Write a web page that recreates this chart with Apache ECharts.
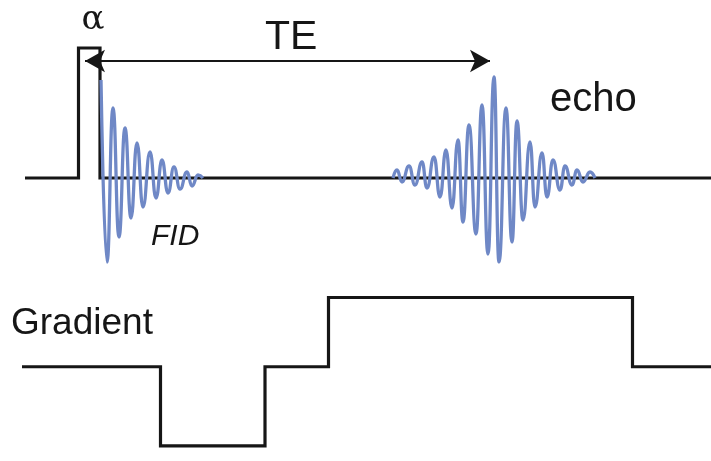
<!DOCTYPE html>
<html>
<head>
<meta charset="utf-8">
<script src="https://cdn.jsdelivr.net/npm/echarts@6/dist/echarts.min.js"></script>
<style>
  html, body { margin: 0; padding: 0; background: #ffffff; }
  #chart { width: 711px; height: 461px; }
</style>
</head>
<body>
<div id="chart"></div>
<script>
// RF channel: baseline with the excitation pulse (time, level)
const rfTime  = [25, 78.5, 78.5, 100, 100, 711];
const rfLevel = [0, 0, 130, 130, 0, 0];

// Free induction decay: successive peaks and troughs
const fidTime = [101, 107, 113, 119, 125, 131, 137, 143, 150, 156, 162, 168, 174, 180, 187, 192, 198, 203];
const fidAmp  = [98, -84, 70, -59, 50, -40, 35, -29, 26, -20, 18, -15, 11, -11, 6, -8, 3, 0];

// Gradient echo: successive peaks and troughs
const echoTime = [393, 397, 402, 409, 415, 422, 427, 434, 440, 446, 452, 458, 463, 469, 476, 482, 488, 494,
                  499, 506, 512, 517, 523, 530, 535, 542, 547, 553, 560, 565, 572, 577, 583, 590, 595];
const echoAmp  = [0, 8, -4, 12, -7, 16, -10, 21, -19, 28, -30, 38, -44, 53, -56, 73, -76, 101,
                  -84, 70, -64, 57, -42, 36, -29, 25, -19, 18, -12, 12, -7, 8, -4, 6, 0];

// Read-out gradient waveform: dephasing lobe then read lobe
const gradTime  = [22, 160.5, 160.5, 265, 265, 328.5, 328.5, 632.5, 632.5, 711];
const gradLevel = [0, 0, -84, -84, 0, 0, 73.5, 73.5, 0, 0];

// Echo time span (start, end) and the level of its arrow
const teSpan = [85, 490];
const teLevel = 117;

const INK = '#161616';
const SIGNAL = '#6f88c6';

const pairs = (xs, ys) => xs.map((x, i) => [x, ys[i]]);

const chart = echarts.init(document.getElementById('chart'), null, { renderer: 'canvas' });

const hiddenAxis = { show: false };

// Text helper: vertical 'middle' puts the glyph centre on y
const label = (x, y, text, font, align) => ({
  type: 'text',
  silent: true,
  style: { x: x, y: y, text: text, fill: INK, font: font, align: align || 'left', verticalAlign: 'middle' }
});

chart.setOption({
  animation: false,
  backgroundColor: '#ffffff',
  grid: [
    { left: 0, right: 0, top: 0, height: 356 },
    { left: 0, right: 0, top: 272.5, height: 200 }
  ],
  xAxis: [
    Object.assign({ type: 'value', min: 0, max: 711, gridIndex: 0 }, hiddenAxis),
    Object.assign({ type: 'value', min: 0, max: 711, gridIndex: 1 }, hiddenAxis)
  ],
  yAxis: [
    Object.assign({ type: 'value', min: -178, max: 178, gridIndex: 0 }, hiddenAxis),
    Object.assign({ type: 'value', min: -100, max: 100, gridIndex: 1 }, hiddenAxis)
  ],
  series: [
    {
      name: 'RF',
      type: 'line',
      xAxisIndex: 0, yAxisIndex: 0,
      data: pairs(rfTime, rfLevel),
      showSymbol: false,
      silent: true,
      lineStyle: { color: INK, width: 3.2, join: 'miter' },
      markLine: {
        silent: true,
        symbol: ['arrow', 'arrow'],
        symbolSize: [17, 20],
        label: { show: false },
        lineStyle: { color: INK, width: 2, type: 'solid' },
        data: [[
          { coord: [teSpan[0], teLevel] },
          { coord: [teSpan[1], teLevel] }
        ]]
      }
    },
    {
      name: 'FID',
      type: 'line',
      xAxisIndex: 0, yAxisIndex: 0,
      data: pairs(fidTime, fidAmp),
      smooth: 0.5,
      smoothMonotone: 'x',
      showSymbol: false,
      silent: true,
      lineStyle: { color: SIGNAL, width: 3.3 }
    },
    {
      name: 'echo',
      type: 'line',
      xAxisIndex: 0, yAxisIndex: 0,
      data: pairs(echoTime, echoAmp),
      smooth: 0.5,
      smoothMonotone: 'x',
      showSymbol: false,
      silent: true,
      lineStyle: { color: SIGNAL, width: 3.3 }
    },
    {
      name: 'Gradient',
      type: 'line',
      xAxisIndex: 1, yAxisIndex: 1,
      data: pairs(gradTime, gradLevel),
      showSymbol: false,
      silent: true,
      lineStyle: { color: INK, width: 3.2, join: 'miter' }
    }
  ],
  graphic: [
    label(93, 20, 'α', '34px "DejaVu Serif", serif', 'center'),
    label(265, 38, 'TE', '41px "Liberation Sans", Arial, sans-serif'),
    label(550, 99.5, 'echo', '40px "Liberation Sans", Arial, sans-serif'),
    label(151, 236.5, 'FID', 'italic 30px "Liberation Sans", Arial, sans-serif'),
    label(11, 323.5, 'Gradient', '37px "Liberation Sans", Arial, sans-serif')
  ]
});
</script>
</body>
</html>
